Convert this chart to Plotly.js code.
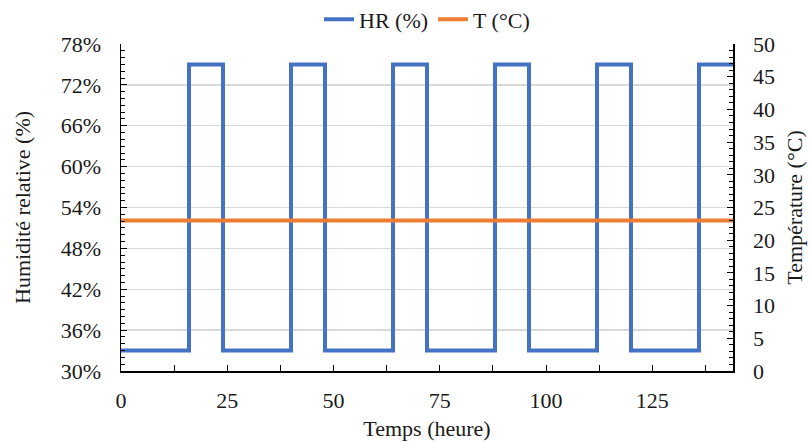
<!DOCTYPE html>
<html><head><meta charset="utf-8">
<script src="https://cdn.plot.ly/plotly-3.0.1.min.js"></script>
<style>html,body{margin:0;padding:0;background:#fff}#chart{width:811px;height:443px}</style>
</head><body><div id="chart"></div>
<script>
// Time (hours) at each change point of the humidity step signal
const timeHours = [0, 16, 24, 40, 48, 64, 72, 88, 96, 112, 120, 136, 144];
// Relative humidity (fraction) from each change point onwards
const humidity = [0.33, 0.75, 0.33, 0.75, 0.33, 0.75, 0.33, 0.75, 0.33, 0.75, 0.33, 0.75, 0.75];
// Temperature (°C), constant
const tempTime = [0, 144];
const temperature = [23, 23];
const xTicks = [0, 25, 50, 75, 100, 125];

const font = {family: 'Times New Roman, Liberation Serif, DejaVu Serif, serif', size: 22, color: '#1a1a1a'};

const traces = [
  {x: timeHours, y: humidity, name: 'HR (%)', mode: 'lines', line: {color: '#4472C4', width: 4, shape: 'hv'}, yaxis: 'y'},
  {x: tempTime, y: temperature, name: 'T (°C)', mode: 'lines', line: {color: '#ED7D31', width: 4}, yaxis: 'y2'}
];

const layout = {
  width: 811, height: 443,
  margin: {l: 121, r: 78, t: 44, b: 72, autoexpand: false},
  paper_bgcolor: '#fff', plot_bgcolor: '#fff',
  font: font,
  showlegend: true,
  legend: {orientation: 'h', x: 0.5, xanchor: 'center', y: 1.075, yanchor: 'middle', font: font, tracegroupgap: 0},
  xaxis: {
    range: [0, 144], tickvals: xTicks, ticktext: xTicks.map(String),
    showline: true, linecolor: '#000', linewidth: 1.5, showgrid: false, zeroline: false,
    ticks: 'inside', ticklen: 6, tickcolor: '#000', ticklabelstandoff: 9,
    minor: {ticks: 'inside', dtick: 12.5, ticklen: 6, tickcolor: '#000', showgrid: false},
    title: {text: 'Temps (heure)', font: font, standoff: 8}
  },
  yaxis: {
    range: [0.30, 0.78], dtick: 0.06, tick0: 0.30, tickformat: '.0%',
    showline: true, linecolor: '#000', linewidth: 1.5, showgrid: true, gridcolor: '#d9d9d9', gridwidth: 1.3, zeroline: false,
    ticks: 'inside', ticklen: 6, tickcolor: '#000', ticklabelstandoff: 14,
    minor: {ticks: 'inside', dtick: 0.01, ticklen: 4, tickcolor: '#000', showgrid: false},
    title: {text: 'Humidité relative (%)', font: font, standoff: 24}
  },
  yaxis2: {
    overlaying: 'y', side: 'right', range: [0, 50], dtick: 5,
    showline: true, linecolor: '#000', linewidth: 1.5, showgrid: false, zeroline: false,
    ticks: 'inside', ticklen: 6, tickcolor: '#000', ticklabelstandoff: 14,
    minor: {ticks: 'inside', dtick: 1, ticklen: 4, tickcolor: '#000', showgrid: false},
    title: {text: 'Température (°C)', font: font, standoff: 12}
  }
};

Plotly.newPlot('chart', traces, layout, {displayModeBar: false, staticPlot: true});
</script>
</body></html>
